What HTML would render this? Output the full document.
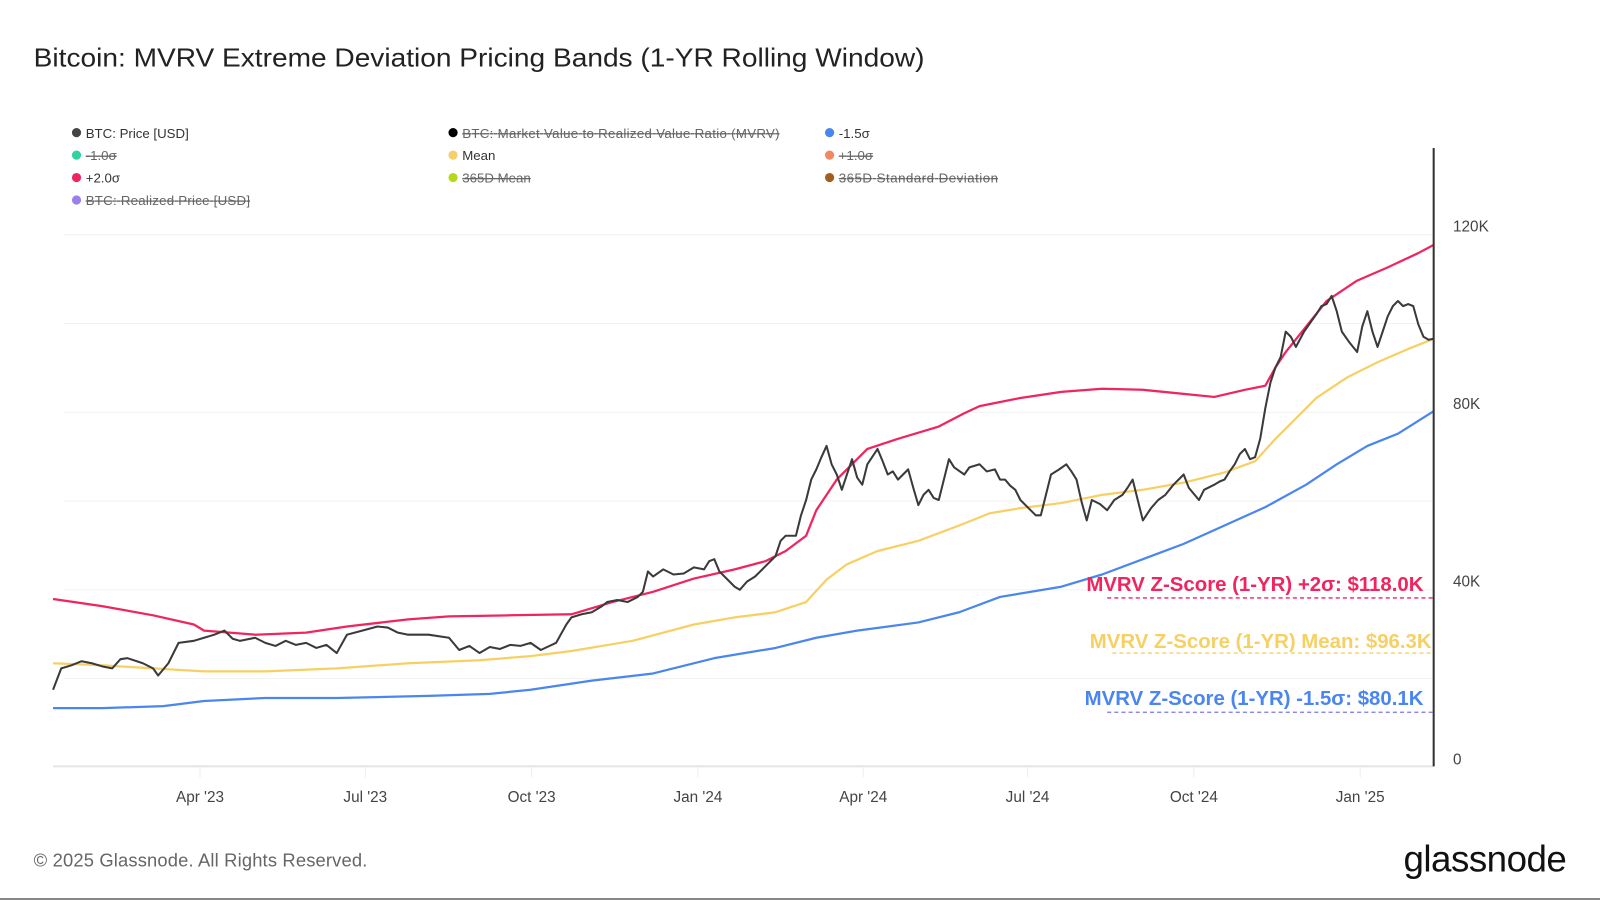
<!DOCTYPE html>
<html><head><meta charset="utf-8"><style>
html,body{margin:0;padding:0;background:#fff;}
svg{display:block;font-family:"Liberation Sans",sans-serif;}
.st{text-decoration:line-through;}
</style></head><body>
<svg width="1600" height="900" viewBox="0 0 1568 882" preserveAspectRatio="none">
<rect width="1568" height="882" fill="#fff"/>
<text x="33" y="65" font-size="25" fill="#222" textLength="873" lengthAdjust="spacingAndGlyphs">Bitcoin: MVRV Extreme Deviation Pricing Bands (1-YR Rolling Window)</text>
<g font-size="13" fill="#333">
<circle cx="75" cy="130" r="4.5" fill="#444"/><text x="84" y="135">BTC: Price [USD]</text>
<circle cx="444" cy="130" r="4.5" fill="#000"/><text x="453" y="135" fill="#666" class="st" textLength="311">BTC: Market Value to Realized Value Ratio (MVRV)</text>
<circle cx="813" cy="130" r="4.5" fill="#4a86f0"/><text x="822" y="135">-1.5σ</text>
<circle cx="75" cy="152" r="4.5" fill="#2ed3a0"/><text x="84" y="157" fill="#666" class="st">-1.0σ</text>
<circle cx="444" cy="152" r="4.5" fill="#f5d06a"/><text x="453" y="157">Mean</text>
<circle cx="813" cy="152" r="4.5" fill="#f08a60"/><text x="822" y="157" fill="#666" class="st">+1.0σ</text>
<circle cx="75" cy="174" r="4.5" fill="#f0245e"/><text x="84" y="179">+2.0σ</text>
<circle cx="444" cy="174" r="4.5" fill="#b6d81c"/><text x="453" y="179" fill="#666" class="st">365D Mean</text>
<circle cx="813" cy="174" r="4.5" fill="#a0601c"/><text x="822" y="179" fill="#666" class="st" textLength="156">365D Standard Deviation</text>
<circle cx="75" cy="196" r="4.5" fill="#9a80ee"/><text x="84" y="201" fill="#666" class="st" textLength="161">BTC: Realized Price [USD]</text>
</g>
<g stroke="#f2f2f2" stroke-width="1">
<line x1="62" y1="230" x2="1405" y2="230"/><line x1="62" y1="317" x2="1405" y2="317"/><line x1="62" y1="404" x2="1405" y2="404"/><line x1="62" y1="491" x2="1405" y2="491"/><line x1="62" y1="578" x2="1405" y2="578"/><line x1="62" y1="665" x2="1405" y2="665"/>
</g>
<line x1="52" y1="751" x2="1405" y2="751" stroke="#e6e6e6" stroke-width="2"/>
<g stroke="#eee"><line x1="196" y1="752" x2="196" y2="762"/><line x1="358" y1="752" x2="358" y2="762"/><line x1="521" y1="752" x2="521" y2="762"/><line x1="684" y1="752" x2="684" y2="762"/><line x1="846" y1="752" x2="846" y2="762"/><line x1="1007" y1="752" x2="1007" y2="762"/><line x1="1170" y1="752" x2="1170" y2="762"/><line x1="1333" y1="752" x2="1333" y2="762"/></g>
<g font-size="15" fill="#444" text-anchor="middle">
<text x="196" y="786">Apr '23</text><text x="358" y="786">Jul '23</text><text x="521" y="786">Oct '23</text><text x="684" y="786">Jan '24</text><text x="846" y="786">Apr '24</text><text x="1007" y="786">Jul '24</text><text x="1170" y="786">Oct '24</text><text x="1333" y="786">Jan '25</text>
</g>
<g font-size="15" fill="#444">
<text x="1424" y="227">120K</text><text x="1424" y="401">80K</text><text x="1424" y="575">40K</text><text x="1424" y="749">0</text>
</g>
<g fill="none" stroke-width="2.2" stroke-linejoin="round">
<polyline stroke="#4a86f0" points="52,694 100,694 160,692 200,687 260,684 330,684 420,682 480,680 520,676 580,667 640,660 700,645 760,635 800,625 840,618 900,610 940,600 980,585 1040,575 1080,563 1120,548 1160,533 1200,515 1240,497 1280,475 1310,455 1340,437 1370,425 1405,403"/>
<polyline stroke="#f7d064" points="52,650 100,652 150,655 200,658 260,658 330,655 400,650 470,647 520,643 560,638 620,628 680,612 720,605 760,600 790,590 810,568 830,553 860,540 900,530 940,515 970,503 1000,498 1040,493 1080,485 1120,480 1160,473 1200,463 1230,452 1250,430 1270,410 1290,390 1320,370 1350,355 1380,342 1405,332"/>
<polyline stroke="#f0245e" points="52,587 100,594 150,603 190,612 200,618 250,622 300,620 340,614 400,607 440,604 500,603 560,602 600,590 640,580 680,567 720,558 750,550 770,540 790,525 800,500 820,470 850,440 880,430 920,418 945,405 960,398 1000,390 1040,384 1080,381 1120,382 1160,386 1190,389 1220,382 1240,378 1250,360 1260,345 1280,320 1300,295 1330,275 1360,262 1390,248 1405,240"/>
<polyline stroke="#3a3a3a" stroke-width="2" points="52,676 60,655 70,652 80,648 90,650 100,653 110,655 118,646 125,645 140,650 150,655 155,662 165,650 175,630 190,628 200,625 210,622 220,618 228,626 235,628 250,625 260,630 270,633 280,628 290,632 300,630 310,635 320,632 330,640 340,622 355,618 370,614 380,615 390,620 400,622 420,622 440,625 450,637 460,633 470,640 480,634 490,636 500,632 510,633 520,630 530,637 545,630 555,612 560,605 570,602 580,600 590,594 595,590 605,588 615,590 625,585 630,580 635,560 640,565 650,558 660,563 670,562 680,556 690,558 695,550 700,548 705,560 715,570 720,575 725,578 732,570 740,565 750,555 760,545 765,530 770,525 780,525 785,505 790,490 795,470 800,460 805,448 810,437 815,455 820,465 825,480 830,465 835,450 840,468 845,475 850,455 860,440 865,452 870,465 875,462 880,470 885,465 890,460 895,478 900,495 905,485 910,480 915,488 920,490 925,470 930,450 935,458 945,465 950,458 960,455 967,462 975,460 980,470 985,470 990,476 995,480 1000,490 1010,500 1015,505 1020,505 1025,485 1030,465 1038,460 1045,455 1050,462 1055,470 1060,492 1065,510 1070,490 1078,494 1085,500 1092,490 1100,485 1105,478 1110,470 1115,490 1120,510 1128,498 1135,490 1142,485 1150,475 1155,470 1160,465 1165,478 1175,490 1180,480 1190,475 1195,472 1200,470 1205,462 1210,455 1215,445 1220,440 1225,450 1230,448 1235,430 1240,400 1245,375 1250,360 1255,350 1260,325 1265,330 1270,340 1278,325 1285,315 1290,308 1295,300 1300,298 1305,290 1310,305 1315,325 1322,335 1330,345 1335,320 1340,305 1345,325 1350,340 1355,325 1360,310 1365,300 1370,295 1375,300 1380,298 1385,300 1390,318 1395,330 1400,333 1405,332"/>
</g>
<line x1="1405" y1="145" x2="1405" y2="751" stroke="#333" stroke-width="2"/>
<g font-size="20" font-weight="bold" text-anchor="end">
<text x="1395" y="579" fill="#f0245e">MVRV Z-Score (1-YR) +2σ: $118.0K</text>
<text x="1403" y="635" fill="#f7d064">MVRV Z-Score (1-YR) Mean: $96.3K</text>
<text x="1395" y="691" fill="#4a86f0">MVRV Z-Score (1-YR) -1.5σ: $80.1K</text>
</g>
<g stroke-dasharray="4,3" stroke-width="1.3">
<line x1="1085" y1="586" x2="1405" y2="586" stroke="#f0245e"/>
<line x1="1090" y1="640" x2="1405" y2="640" stroke="#f7d064"/>
<line x1="1085" y1="698" x2="1405" y2="698" stroke="#7a78e8"/>
</g>
<text x="33" y="849" font-size="18" fill="#666" textLength="327">© 2025 Glassnode. All Rights Reserved.</text>
<text x="1535" y="854" font-size="36" fill="#111" text-anchor="end" letter-spacing="-0.5">glassnode</text>
<line x1="0" y1="881" x2="1568" y2="881" stroke="#888" stroke-width="2"/>
</svg>
</body></html>
